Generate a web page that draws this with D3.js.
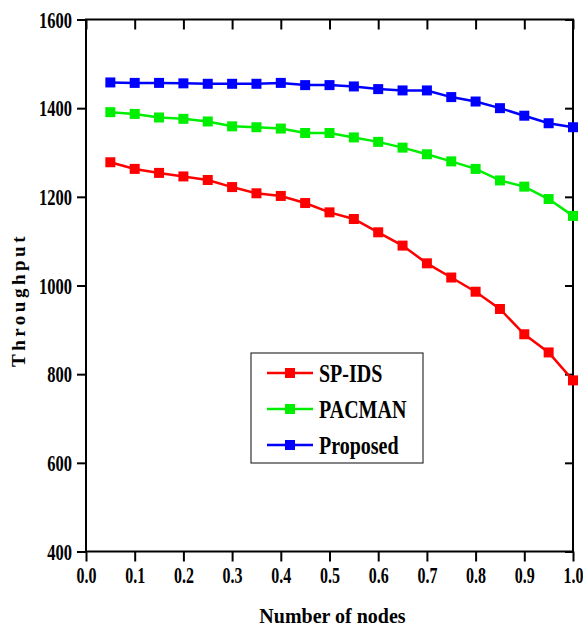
<!DOCTYPE html>
<html lang="en">
  <head>
    <meta charset="UTF-8" />
    <title>Throughput</title>
    <style>
      body { margin: 0; background: #fff; }
      text { font-family: "Liberation Serif", "Times New Roman", serif; font-weight: bold; fill: #000; }
      .tall { transform-box: fill-box; transform-origin: center; }
      .line { fill: none; stroke-width: 2.5px; }
    </style>
  </head>
  <body>
    <div id="chart"></div>
    <script src="https://d3js.org/d3.v7.min.js"></script>
    <script>
      // data
      const nodes = [0.05, 0.10, 0.15, 0.20, 0.25, 0.30, 0.35, 0.40, 0.45, 0.50,
                     0.55, 0.60, 0.65, 0.70, 0.75, 0.80, 0.85, 0.90, 0.95, 1.00];
      const spIds = [1278, 1263, 1254, 1246, 1238, 1222, 1208, 1202, 1186, 1165,
                     1150, 1120, 1090, 1050, 1018, 986, 947, 890, 849, 786];
      const pacman = [1391, 1387, 1379, 1376, 1370, 1359, 1357, 1354, 1344, 1344,
                      1334, 1324, 1311, 1296, 1280, 1263, 1237, 1223, 1195, 1157];
      const proposed = [1458, 1457, 1457, 1456, 1455, 1455, 1455, 1457, 1452, 1452,
                        1449, 1443, 1440, 1440, 1425, 1415, 1400, 1383, 1366, 1357];
      const seriesNames = ["SP-IDS", "PACMAN", "Proposed"];
      const seriesColors = ["#ff0000", "#00ee00", "#0000ff"];
      const xTicks = [0.0, 0.1, 0.2, 0.3, 0.4, 0.5, 0.6, 0.7, 0.8, 0.9, 1.0];
      const yTicks = [400, 600, 800, 1000, 1200, 1400, 1600];

      const width = 583, height = 629;
      const m = {left: 86, right: 573, top: 19.5, bottom: 551.5};

      const svg = d3.select("#chart").append("svg")
          .attr("width", width)
          .attr("height", height);

      const x = d3.scaleLinear().domain([0, 1]).range([m.left, m.right]);
      const y = d3.scaleLinear().domain([400, 1600]).range([m.bottom, m.top]);

      // bottom axis
      const gx = svg.append("g")
          .attr("transform", "translate(0," + m.bottom + ")")
          .call(d3.axisBottom(x).tickValues(xTicks).tickFormat(d3.format(".1f"))
            .tickSize(10).tickPadding(8));
      gx.selectAll("text").attr("class", "tall").style("font-size", "16px")
          .style("transform", "scaleY(1.45)");

      // left axis
      const gy = svg.append("g")
          .attr("transform", "translate(" + m.left + ",0)")
          .call(d3.axisLeft(y).tickValues(yTicks).tickFormat(d3.format("d"))
            .tickSize(9).tickPadding(5));
      gy.selectAll("text").attr("class", "tall").style("font-size", "16.5px")
          .style("transform", "scaleY(1.4)");

      // top and right frame, ticks inward
      const gt = svg.append("g")
          .attr("transform", "translate(0," + m.top + ")")
          .call(d3.axisBottom(x).tickValues(xTicks).tickSize(10).tickFormat(""));
      const gr = svg.append("g")
          .attr("transform", "translate(" + m.right + ",0)")
          .call(d3.axisLeft(y).tickValues(yTicks).tickSize(8).tickFormat(""));

      [gx, gy, gt, gr].forEach(function(g) {
        g.select(".domain").remove();
        g.selectAll(".tick line").attr("stroke-width", 2);
      });
      gt.selectAll(".tick line").attr("y2", 10);
      gr.selectAll(".tick line").attr("x2", -8);

      svg.append("rect")
          .attr("x", m.left).attr("y", m.top)
          .attr("width", m.right - m.left).attr("height", m.bottom - m.top)
          .attr("fill", "none").attr("stroke", "#000").attr("stroke-width", 2);

      // series
      const allSeries = [spIds, pacman, proposed];
      const line = d3.line()
          .x(function(d, i) { return x(nodes[i]); })
          .y(function(d) { return y(d); });

      allSeries.forEach(function(vals, k) {
        svg.append("path")
            .datum(vals)
            .attr("class", "line")
            .attr("stroke", seriesColors[k])
            .attr("d", line);
        svg.selectAll(".m" + k)
            .data(vals)
            .enter().append("rect")
            .attr("class", "m" + k)
            .attr("x", function(d, i) { return x(nodes[i]) - 5; })
            .attr("y", function(d) { return y(d) - 5; })
            .attr("width", 10).attr("height", 10)
            .attr("fill", seriesColors[k]);
      });

      // legend
      const leg = svg.append("g");
      leg.append("rect")
          .attr("x", 251).attr("y", 353)
          .attr("width", 172).attr("height", 110)
          .attr("fill", "#fff").attr("stroke", "#333").attr("stroke-width", 1.2);
      seriesNames.forEach(function(name, k) {
        const ly = 373 + k * 36;
        leg.append("line")
            .attr("x1", 267).attr("x2", 313)
            .attr("y1", ly).attr("y2", ly)
            .attr("stroke", seriesColors[k]).attr("stroke-width", 2.5);
        leg.append("rect")
            .attr("x", 285).attr("y", ly - 5)
            .attr("width", 10).attr("height", 10)
            .attr("fill", seriesColors[k]);
        leg.append("text")
            .attr("class", "tall")
            .attr("x", 319).attr("y", ly)
            .attr("dy", "0.35em")
            .style("font-size", "20px")
            .style("transform", "scaleY(1.3)")
            .text(name);
      });

      // axis titles
      svg.append("text")
          .attr("class", "tall")
          .attr("x", (m.left + m.right) / 2 + 3).attr("y", 622)
          .attr("text-anchor", "middle")
          .style("font-size", "20px")
          .style("transform", "scaleY(1.1)")
          .text("Number of nodes");

      svg.append("text")
          .attr("transform", "translate(25,300) rotate(-90)")
          .attr("text-anchor", "middle")
          .style("font-size", "19px")
          .style("letter-spacing", "3.5px")
          .text("Throughput");
    </script>
  </body>
</html>
